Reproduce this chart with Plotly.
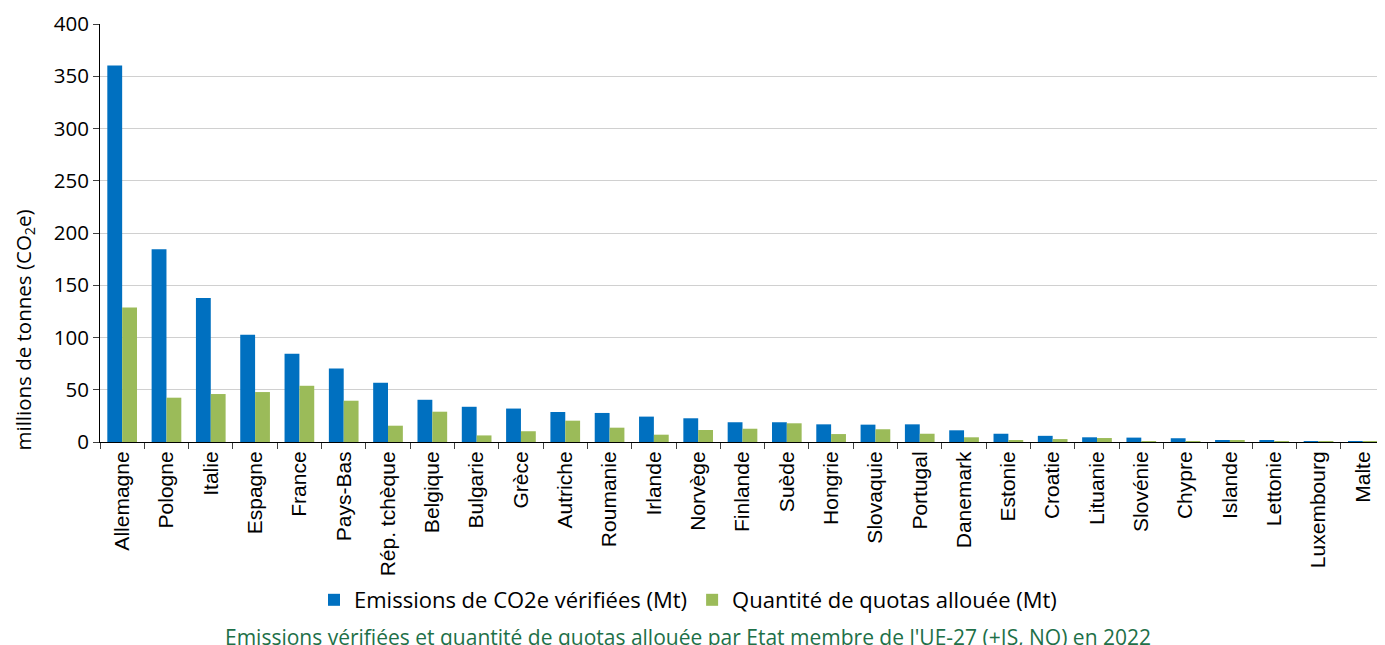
import plotly.graph_objects as go

countries = ["Allemagne", "Pologne", "Italie", "Espagne", "France", "Pays-Bas", "Rép. tchèque",
             "Belgique", "Bulgarie", "Grèce", "Autriche", "Roumanie", "Irlande", "Norvège",
             "Finlande", "Suède", "Hongrie", "Slovaquie", "Portugal", "Danemark", "Estonie",
             "Croatie", "Lituanie", "Slovénie", "Chypre", "Islande", "Lettonie", "Luxembourg", "Malte"]

emissions = [360.4, 184.5, 137.7, 102.6, 84.4, 70.4, 56.7, 40.4, 33.7, 32.0, 28.7, 27.8, 24.3,
             22.7, 18.9, 18.9, 16.9, 16.6, 16.9, 11.2, 7.9, 5.9, 4.5, 4.2, 3.6, 1.7, 1.5, 0.8, 0.8]

quotas = [128.7, 42.4, 45.9, 47.8, 53.8, 39.5, 15.6, 29.0, 6.3, 10.3, 20.4, 13.7, 7.0,
          11.5, 12.7, 17.9, 7.6, 12.2, 7.9, 4.5, 1.7, 2.8, 3.8, 0.8, 0.5, 1.0, 0.5, 0.8, 0.1]

y_ticks = [0, 50, 100, 150, 200, 250, 300, 350, 400]

name_em = "Emissions de CO2e vérifiées (Mt)"
name_q = "Quantité de quotas allouée (Mt)"
title_text = "Emissions vérifiées et quantité de quotas allouée par Etat membre de l'UE-27 (+IS, NO) en 2022"
y_title = "millions de tonnes (CO<sub>2</sub>e)"

fig = go.Figure()
fig.add_trace(go.Bar(x=countries, y=emissions, name=name_em,
                     marker=dict(color="#0070C0", line=dict(width=0))))
fig.add_trace(go.Bar(x=countries, y=quotas, name=name_q,
                     marker=dict(color="#9BBB59", line=dict(width=0))))

fig.update_layout(
    width=1385, height=645,
    margin=dict(l=92, r=8, t=16, b=211),
    plot_bgcolor="white", paper_bgcolor="white",
    barmode="group", bargap=0.33, bargroupgap=0,
    font=dict(family="Open Sans", color="#000000"),
    showlegend=True,
    legend=dict(orientation="h", x=0.4576, xanchor="center", y=-0.378, yanchor="middle",
                font=dict(family="Open Sans", size=22, color="#000000"),
                itemwidth=30, tracegroupgap=0),
    xaxis=dict(
        type="category", tickangle=-90, tickson="boundaries", automargin=False,
        ticks="outside", ticklen=6, tickcolor="#404040",
        showline=True, linecolor="#000000", linewidth=1,
        tickfont=dict(family="Liberation Sans", size=21, color="#000000"),
        showgrid=False,
    ),
    yaxis=dict(
        range=[0, 400], tickvals=y_ticks, ticks="outside", ticklen=6, tickcolor="#404040",
        automargin=False,
        showline=True, linecolor="#000000", linewidth=1,
        showgrid=True, gridcolor="#D0D0D0", gridwidth=1,
        tickfont=dict(family="Open Sans", size=20.5, color="#000000"),
        zeroline=False,
    ),
    annotations=[
        dict(text=title_text, xref="paper", yref="paper", x=0.4576, xanchor="center",
             y=-0.4665, yanchor="middle", showarrow=False,
             font=dict(family="Open Sans", size=21, color="#1E7048")),
        dict(text=y_title, xref="paper", yref="paper", x=-0.0595, xanchor="center",
             y=0.268, yanchor="middle", textangle=-90, showarrow=False,
             font=dict(family="Open Sans", size=20.5, color="#000000")),
    ],
)

fig.write_html("out.html")
